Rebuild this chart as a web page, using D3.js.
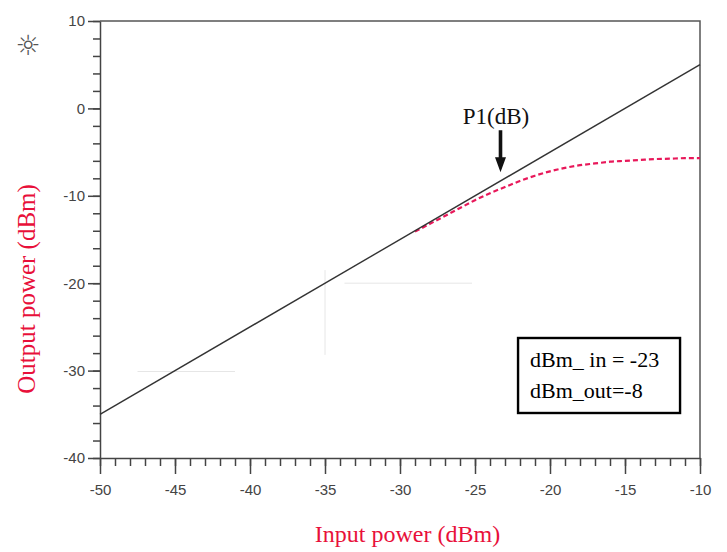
<!DOCTYPE html>
<html>
<head>
<meta charset="utf-8">
<script src="https://cdn.jsdelivr.net/npm/d3@7"></script>
<style>
  body { margin: 0; background: #fff; }
  svg { display: block; }
</style>
</head>
<body>
<svg width="727" height="552"></svg>
<script>
// data
const xMajor = [-50, -45, -40, -35, -30, -25, -20, -15, -10];
const yMajor = [-40, -30, -20, -10, 0, 10];
const linearIn = [-50, -10];
const linearOut = [-35, 5];
const measIn = [-29, -28, -26, -25, -24, -23, -22, -21, -20, -19, -18, -17, -16, -15, -14, -13, -12, -11, -10];
const measOut = [-14.1, -13.2, -11.4, -10.5, -9.7, -9.0, -8.3, -7.7, -7.2, -6.8, -6.5, -6.3, -6.1, -6.0, -5.9, -5.8, -5.75, -5.7, -5.7];
const boxLines = ['dBm_ in = -23', 'dBm_out=-8'];

const svg = d3.select('svg');
const margin = { left: 100, right: 27, top: 21, bottom: 94 };
const width = 727 - margin.left - margin.right,
      height = 552 - margin.top - margin.bottom;

let x = d3.scaleLinear().domain([-50, -10]).range([0, width]);
let y = d3.scaleLinear().domain([-40, 10]).range([height, 0]);

let g = svg.append('g').attr('transform', `translate(${margin.left},${margin.top})`);

// faint leftover guide lines in the background
const faint = [
    [[-35, -18.5], [-35, -28.2]],
    [[-33.7, -20], [-25.2, -20]],
    [[-47.5, -30.1], [-41, -30.1]],
];
g.selectAll('.faint')
    .data(faint)
    .enter()
    .append('path')
    .attr('class', 'faint')
    .attr('d', d => d3.line().x(p => x(p[0])).y(p => y(p[1]))(d))
    .attr('stroke', '#e6e6e6')
    .attr('stroke-width', 1);

// frame (top and right edges)
g.append('path')
    .attr('d', `M0,0H${width}V${height}`)
    .attr('fill', 'none')
    .attr('stroke', '#555')
    .attr('stroke-width', 1.5);

// minor ticks
g.append('g')
    .attr('transform', `translate(0,${height})`)
    .call(d3.axisBottom(x).tickValues(d3.range(-50, -9, 1)).tickSize(8).tickFormat(''))
    .call(a => a.select('.domain').remove());
g.append('g')
    .call(d3.axisLeft(y).tickValues(d3.range(-40, 11, 2)).tickSize(7).tickFormat(''))
    .call(a => a.select('.domain').remove());

// major ticks + labels
g.append('g')
    .attr('transform', `translate(0,${height})`)
    .call(d3.axisBottom(x).tickValues(xMajor).tickSize(16).tickSizeOuter(0).tickPadding(10)
        .tickFormat(d => String(d)));
g.append('g')
    .call(d3.axisLeft(y).tickValues(yMajor).tickSize(12).tickSizeOuter(0).tickPadding(3)
        .tickFormat(d => String(d)));

g.selectAll('.tick line, .domain')
    .attr('stroke', '#444')
    .attr('stroke-width', 1.5);
g.selectAll('.tick text')
    .attr('fill', '#444')
    .style('font-family', 'Liberation Sans, Arial, sans-serif')
    .style('font-size', '15px');

// measured (compressed) curve
g.append('path')
    .datum(d3.zip(measIn, measOut))
    .attr('fill', 'none')
    .attr('stroke', '#e8185a')
    .attr('stroke-width', 2.2)
    .attr('stroke-dasharray', '5,3')
    .attr('d', d3.line().x(d => x(d[0])).y(d => y(d[1])).curve(d3.curveMonotoneX));

// ideal linear gain line
g.append('path')
    .datum(d3.zip(linearIn, linearOut))
    .attr('fill', 'none')
    .attr('stroke', '#333')
    .attr('stroke-width', 1.4)
    .attr('d', d3.line().x(d => x(d[0])).y(d => y(d[1])));

// P1dB annotation
const serif = 'Liberation Serif, Times New Roman, serif';
g.append('text')
    .attr('x', x(-23.6))
    .attr('y', y(-1.8))
    .attr('text-anchor', 'middle')
    .style('font-family', serif)
    .style('font-size', '23px')
    .attr('fill', '#111')
    .text('P1(dB)');

const ax = x(-23.3), ay0 = y(-2.5), ay1 = y(-7.3);
g.append('path')
    .attr('d', `M${ax - 1.8},${ay0}V${ay1 - 15}H${ax - 5.5}L${ax},${ay1}L${ax + 5.5},${ay1 - 15}H${ax + 1.8}V${ay0}Z`)
    .attr('fill', '#111');

// value box
let box = g.append('g').attr('transform', `translate(${x(-22.13)},${y(-26.27)})`);
box.append('rect')
    .attr('width', 162).attr('height', 75)
    .attr('fill', '#fff')
    .attr('stroke', '#000')
    .attr('stroke-width', 2.4);
box.selectAll('text')
    .data(boxLines)
    .enter()
    .append('text')
    .attr('x', 12)
    .attr('y', (d, i) => 29 + i * 31)
    .style('font-family', serif)
    .style('font-size', '22px')
    .attr('fill', '#000')
    .text(d => d);

// axis titles
svg.append('text')
    .attr('x', margin.left + x(-29.5))
    .attr('y', 542)
    .attr('text-anchor', 'middle')
    .style('font-family', serif)
    .style('font-size', '24px')
    .attr('fill', '#e8103a')
    .text('Input power (dBm)');

svg.append('text')
    .attr('transform', `translate(35,${margin.top + y(-20.66)}) rotate(-90)`)
    .attr('text-anchor', 'middle')
    .style('font-family', serif)
    .style('font-size', '25px')
    .attr('fill', '#e8103a')
    .text('Output power (dBm)');

// small sun glyph top-left
svg.append('text')
    .attr('x', 28).attr('y', 55)
    .attr('text-anchor', 'middle')
    .style('font-family', 'DejaVu Sans')
    .style('font-size', '28px')
    .attr('fill', '#555')
    .text('\u263C');
</script>
</body>
</html>
